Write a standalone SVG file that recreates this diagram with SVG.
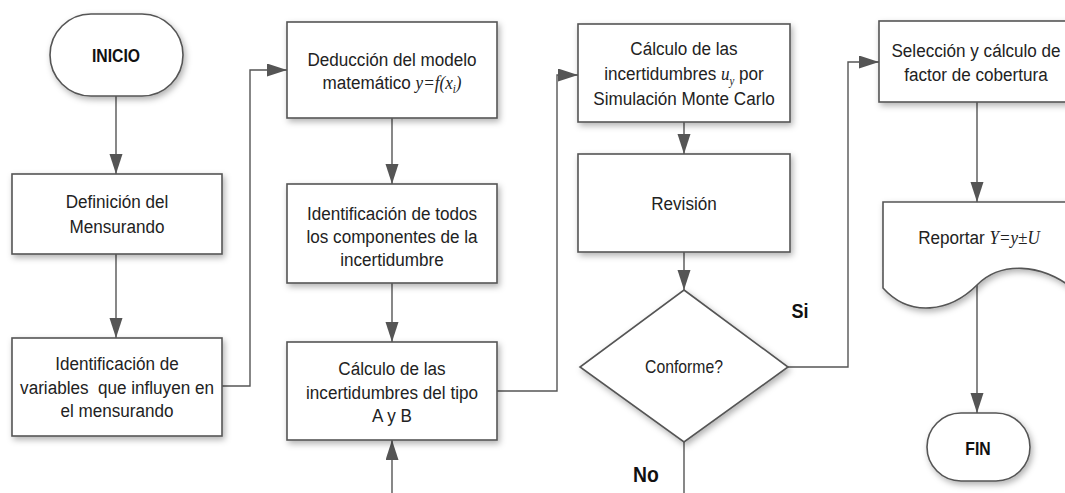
<svg xmlns="http://www.w3.org/2000/svg" width="1065" height="493" viewBox="0 0 1065 493">
<style>
.box{fill:#fff;stroke:#555;stroke-width:1.6;filter:url(#sh)}
.t{font-family:"Liberation Sans",Arial,sans-serif;font-size:19px;fill:#222;text-anchor:middle}
.b{font-family:"Liberation Sans",Arial,sans-serif;font-size:17.5px;font-weight:bold;fill:#111;text-anchor:middle}
.m{font-family:"Liberation Serif","Times New Roman",serif;font-style:italic}
.c{fill:none;stroke:#555;stroke-width:1.4}
</style>
<defs>
<filter id="sh" x="-20%" y="-20%" width="140%" height="140%">
<feDropShadow dx="2" dy="3" stdDeviation="3" flood-color="#000" flood-opacity="0.3"/>
</filter>
<marker id="ah" markerUnits="userSpaceOnUse" markerWidth="22" markerHeight="14" refX="20" refY="6.5" orient="auto">
<path d="M0,0 L20,6.5 L0,13 Z" fill="#555"/>
</marker>
</defs>
<g id="connectors">
<path class="c" d="M116,96 V174" marker-end="url(#ah)"/>
<path class="c" d="M116,254 V338" marker-end="url(#ah)"/>
<path class="c" d="M222,386 H250 V70 H287" marker-end="url(#ah)"/>
<path class="c" d="M392,118 V184" marker-end="url(#ah)"/>
<path class="c" d="M392,283 V342" marker-end="url(#ah)"/>
<path class="c" d="M392,493 V440" marker-end="url(#ah)"/>
<path class="c" d="M497,391 H557 V75 H578" marker-end="url(#ah)"/>
<path class="c" d="M684,122 V154" marker-end="url(#ah)"/>
<path class="c" d="M684,252 V290" marker-end="url(#ah)"/>
<path class="c" d="M684,442 V493"/>
<path class="c" d="M788,367 H848 V62 H879" marker-end="url(#ah)"/>
<path class="c" d="M977,102 V202" marker-end="url(#ah)"/>
<path class="c" d="M977,285 V413" marker-end="url(#ah)"/>
</g>
<g id="inicio">
<rect class="box" x="50" y="14" width="133" height="82" rx="41" ry="41"/>
<text class="b" transform="translate(116,62) scale(0.9,1)">INICIO</text>
</g>
<g id="definicion">
<rect class="box" x="12" y="174" width="210" height="80"/>
<text class="t" transform="translate(117,208) scale(0.9,1)">Definición del</text>
<text class="t" transform="translate(117,233) scale(0.9,1)">Mensurando</text>
</g>
<g id="identificacion-variables">
<rect class="box" x="12" y="338" width="210" height="98"/>
<text class="t" transform="translate(117,370) scale(0.9,1)">Identificación de</text>
<text class="t" transform="translate(117,394) scale(0.9,1)" xml:space="preserve">variables  que influyen en</text>
<text class="t" transform="translate(117,417) scale(0.9,1)">el mensurando</text>
</g>
<g id="deduccion">
<rect class="box" x="287" y="22" width="210" height="96"/>
<text class="t" transform="translate(392,66) scale(0.9,1)">Deducción del modelo</text>
<text class="t" transform="translate(392,89) scale(0.9,1)">matemático <tspan class="m">y=f(x</tspan><tspan class="m" font-size="12" dy="4">i</tspan><tspan class="m" dy="-4">)</tspan></text>
</g>
<g id="identificacion-componentes">
<rect class="box" x="287" y="184" width="210" height="99"/>
<text class="t" transform="translate(392,220) scale(0.9,1)">Identificación de todos</text>
<text class="t" transform="translate(392,243) scale(0.9,1)">los componentes de la</text>
<text class="t" transform="translate(392,266) scale(0.9,1)">incertidumbre</text>
</g>
<g id="calculo-ab">
<rect class="box" x="287" y="342" width="210" height="98"/>
<text class="t" transform="translate(392,375) scale(0.9,1)">Cálculo de las</text>
<text class="t" transform="translate(392,399) scale(0.9,1)">incertidumbres del tipo</text>
<text class="t" transform="translate(392,422) scale(0.9,1)">A y B</text>
</g>
<g id="calculo-montecarlo">
<rect class="box" x="578" y="24" width="212" height="98"/>
<text class="t" transform="translate(684,55) scale(0.9,1)">Cálculo de las</text>
<text class="t" transform="translate(684,80) scale(0.9,1)">incertidumbres <tspan class="m">u</tspan><tspan class="m" font-size="12" dy="5">y</tspan><tspan dy="-5"> por</tspan></text>
<text class="t" transform="translate(684,105) scale(0.9,1)">Simulación Monte Carlo</text>
</g>
<g id="revision">
<rect class="box" x="578" y="154" width="212" height="98"/>
<text class="t" transform="translate(684,210) scale(0.9,1)">Revisión</text>
</g>
<g id="conforme">
<path class="box" d="M684,290 L788,367 L684,442 L580,367 Z"/>
<text class="t" style="font-size:17.5px" transform="translate(684,373) scale(0.9,1)">Conforme?</text>
</g>
<g id="labels">
<text class="b" style="font-size:20px" transform="translate(800,318) scale(0.9,1)">Si</text>
<text class="b" style="font-size:21.5px" transform="translate(646,482) scale(0.9,1)">No</text>
</g>
<g id="seleccion">
<rect class="box" x="879" y="21" width="196" height="81"/>
<text class="t" transform="translate(976,57) scale(0.9,1)">Selección y cálculo de</text>
<text class="t" transform="translate(976,81) scale(0.9,1)">factor de cobertura</text>
</g>
<g id="reportar">
<path class="box" d="M883,202 H1075 V290 C1040,262 1000,262 977,285 C950,312 910,318 883,288 Z"/>
<text class="t" transform="translate(979,244) scale(0.9,1)">Reportar <tspan class="m">Y=y±U</tspan></text>
</g>
<g id="fin">
<rect class="box" x="927" y="413" width="103" height="68" rx="34" ry="34"/>
<text class="b" transform="translate(978,455) scale(0.9,1)">FIN</text>
</g>
</svg>
